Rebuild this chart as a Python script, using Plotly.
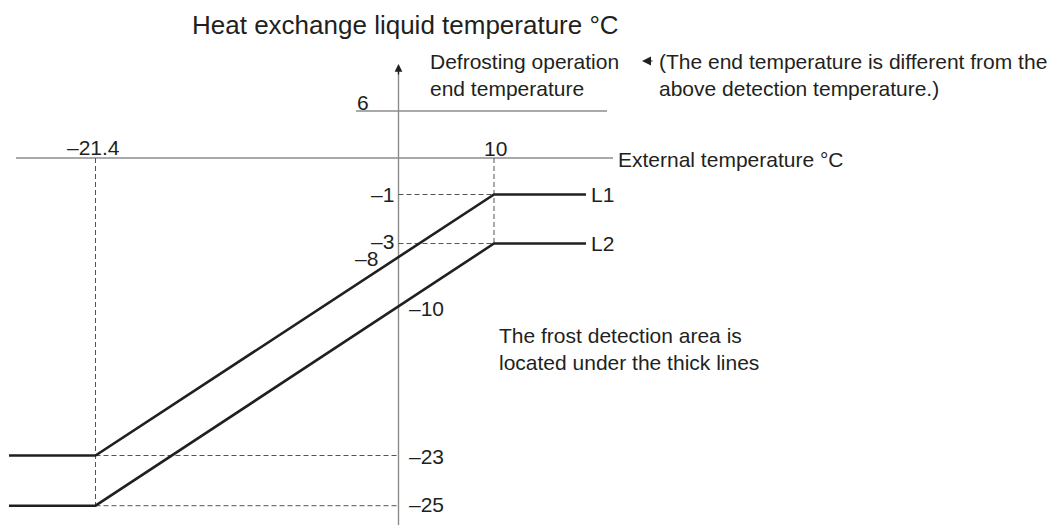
import numpy as np
import plotly.graph_objects as go

# ---------------- data ----------------
ext_temp_breaks = [-21.4, 10]          # external temperature break points (°C)
L1_temps = [-23, -1]                   # heat-exchange liquid temp at the breaks
L2_temps = [-25, -3]
axis_cross_labels = ["–8", "–10"]      # values where L1 / L2 cross the 0 °C axis
end_temp = 6                           # defrosting operation end temperature
line_names = ["L1", "L2"]

title_text = "Heat exchange liquid temperature °C"
x_axis_text = "External temperature °C"
end_text = "Defrosting operation<br>end temperature"
note_text = "(The end temperature is different from the<br>above detection temperature.)"
area_text = "The frost detection area is<br>located under the thick lines"

# ---------------- schematic (not-to-scale) axes ----------------
X_SCALE_T = [-21.4, 0, 10]
X_SCALE_P = [95.5, 398.5, 494]
Y_SCALE_T = [-25, -23, -3, -1, 0, 6]
Y_SCALE_P = [505.7, 455.5, 243.5, 194.5, 158, 111]
X_LEFT_END, X_RIGHT_END = 9, 586
AXIS_X_START, AXIS_X_END = 16, 613
END_LINE_START, END_LINE_END = 356, 607
Y_AXIS_TOP, Y_AXIS_BOTTOM = 64, 525

# page body has an 8px margin: the figure is sized/ranged so that the
# schematic coordinates land on the same window pixels
PAGE_OFFSET = 8
WIN_W, WIN_H = 1061, 525


def sx(t):
    return float(np.interp(t, X_SCALE_T, X_SCALE_P))


def sy(t):
    return float(np.interp(t, Y_SCALE_T, Y_SCALE_P))


INK = "#231f20"
AXIS = "#8c8c8c"
DASH = "#555555"
FONT = "Liberation Sans, Arial, sans-serif"
FS = 21

fig = go.Figure()


def seg(xs, ys, color, width, dash="solid"):
    fig.add_trace(go.Scatter(x=xs, y=ys, mode="lines", hoverinfo="skip",
                             line=dict(color=color, width=width, dash=dash)))


x0 = sx(0)
y0 = sy(0)
# axes
seg([AXIS_X_START, AXIS_X_END], [y0, y0], AXIS, 1.4)
seg([x0, x0], [Y_AXIS_BOTTOM, Y_AXIS_TOP + 4], AXIS, 1.4)
seg([END_LINE_START, END_LINE_END], [sy(end_temp), sy(end_temp)], AXIS, 1.4)

# dashed guides
xa, xb = sx(ext_temp_breaks[0]), sx(ext_temp_breaks[1])
seg([xa, xa], [y0, sy(min(L2_temps[0], L1_temps[0]))], DASH, 1, "5px,3px")
seg([xb, xb], [y0, sy(L2_temps[1])], DASH, 1, "5px,3px")
for temps in (L1_temps, L2_temps):
    seg([xa, x0], [sy(temps[0])] * 2, DASH, 1, "5px,3px")
    seg([x0, xb], [sy(temps[1])] * 2, DASH, 1, "5px,3px")

# thick lines
for name, temps in zip(line_names, (L1_temps, L2_temps)):
    xs = [X_LEFT_END, xa, xb, X_RIGHT_END]
    ys = [sy(temps[0]), sy(temps[0]), sy(temps[1]), sy(temps[1])]
    seg(xs, ys, INK, 2.6)

annotations = []


def label(text, x, y, xanchor="left", yanchor="middle", size=FS):
    annotations.append(dict(text=text, x=x, y=y, xref="x", yref="y",
                            xanchor=xanchor, yanchor=yanchor, showarrow=False,
                            align="left", font=dict(family=FONT, size=size, color=INK)))


# tick-like labels
label("–21.4", xa - 2, y0 - 11, "center")
label("10", xb + 1, y0 - 10, "center")
label(str(end_temp), x0 - 36, sy(end_temp) - 9, "center")
label("–1", x0 - 3, sy(L1_temps[1]), "right")
label("–3", x0 - 3, sy(L2_temps[1]) - 2, "right")
label("–23", x0 + 8, sy(L1_temps[0]) + 1, "left")
label("–25", x0 + 8, sy(L2_temps[0]) - 1, "left")

# axis-crossing labels
for i, temps in enumerate((L1_temps, L2_temps)):
    ya, yb = sy(temps[0]), sy(temps[1])
    yc = ya + (yb - ya) * (x0 - xa) / (xb - xa)
    if i == 0:
        label(axis_cross_labels[i], x0 - 19, yc + 1, "right")
    else:
        label(axis_cross_labels[i], x0 + 8, yc + 2, "left")

# line names
for name, temps in zip(line_names, (L1_temps, L2_temps)):
    label(name, X_RIGHT_END + 3, sy(temps[1]), "left")

label(x_axis_text, AXIS_X_END + 3, y0 + 1, "left")
label(title_text, 190, 25, "left", size=26)
label(end_text, 428, 75, "left")
label(note_text, 657, 75, "left")
label(area_text, 497, 349, "left")

# arrows
annotations.append(dict(x=x0, y=Y_AXIS_TOP, ax=x0, ay=Y_AXIS_TOP + 12, xref="x", yref="y",
                        axref="x", ayref="y", text="", showarrow=True, arrowhead=2,
                        arrowsize=1.2, arrowwidth=1.3, arrowcolor=INK))
annotations.append(dict(x=642, y=61, ax=654, ay=61, xref="x", yref="y",
                        axref="x", ayref="y", text="", showarrow=True, arrowhead=2,
                        arrowsize=1.5, arrowwidth=1.2, arrowcolor=INK))

fig.update_layout(
    width=WIN_W - PAGE_OFFSET, height=WIN_H - PAGE_OFFSET,
    margin=dict(l=0, r=0, t=0, b=0),
    paper_bgcolor="white", plot_bgcolor="white",
    showlegend=False,
    xaxis=dict(range=[PAGE_OFFSET, WIN_W], visible=False, fixedrange=True),
    yaxis=dict(range=[WIN_H, PAGE_OFFSET], visible=False, fixedrange=True),
    annotations=annotations,
)

fig.write_html("out.html")
